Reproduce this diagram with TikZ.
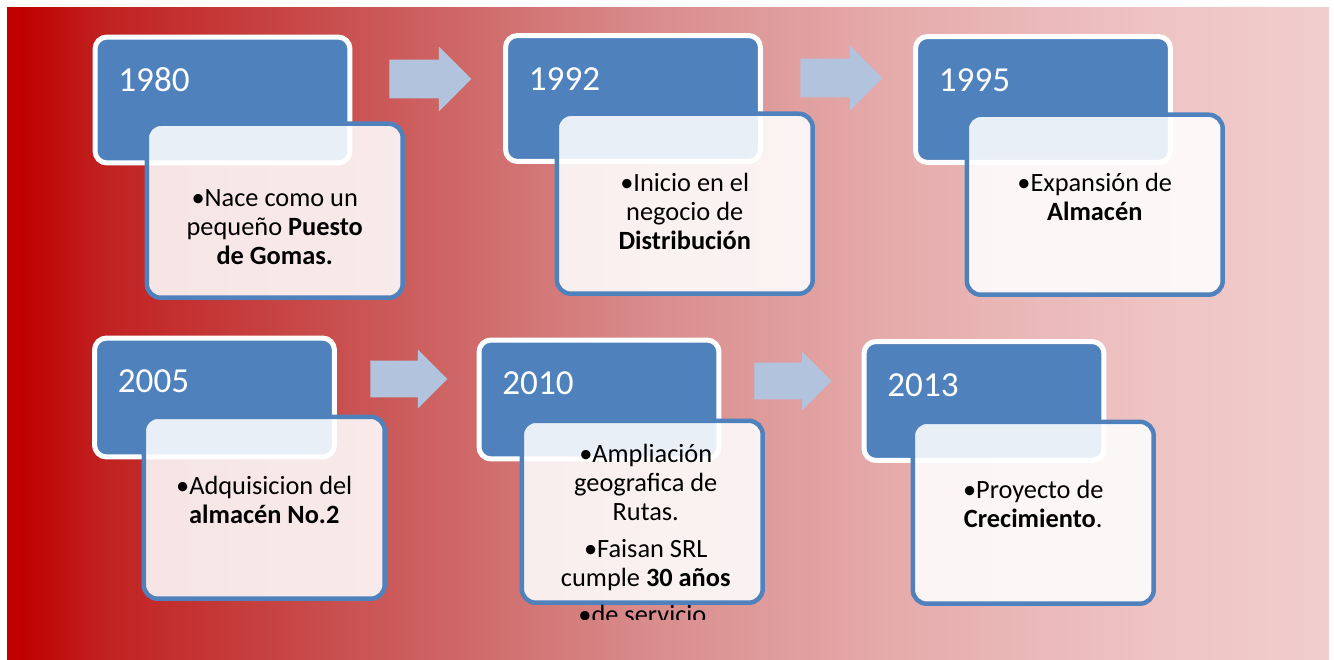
\documentclass[tikz,border=0pt]{standalone}
\usepackage{fontspec}
\setmainfont{Carlito}
\usetikzlibrary{positioning,shapes.arrows}
\definecolor{yearblue}{RGB}{79,129,189}
\definecolor{arrowblue}{RGB}{178,195,221}
\definecolor{fadeA}{RGB}{192,0,0}
\definecolor{fadeB}{RGB}{193,32,32}
\definecolor{fadeC}{RGB}{204,92,92}
\definecolor{fadeD}{RGB}{217,140,140}
\definecolor{fadeE}{RGB}{230,172,172}
\definecolor{fadeF}{RGB}{238,195,195}
\definecolor{fadeG}{RGB}{242,205,205}
\pgfdeclarehorizontalshading{timefade}{100bp}{color(0bp)=(fadeA); color(25.6bp)=(fadeA);
  color(28.5bp)=(fadeB); color(39.9bp)=(fadeC); color(49.3bp)=(fadeD);
  color(58.8bp)=(fadeE); color(68.2bp)=(fadeF); color(75bp)=(fadeG); color(100bp)=(fadeG)}

\begin{document}
\begin{tikzpicture}[
    x=0.02cm, y=-0.02cm,
    yearbox/.style={rectangle, rounded corners=0.24cm, draw=white, fill=yearblue,
                    line width=0.1cm, inner sep=0pt},
    notebox/.style={rectangle, rounded corners=0.28cm, draw=yearblue, fill=white,
                    fill opacity=0.88, line width=0.09cm, inner sep=0pt},
    toprow/.style={minimum width=5.1cm, minimum height=2.52cm},
    lowrow/.style={minimum width=4.8cm, minimum height=2.38cm},
    topnote/.style={minimum width=5.12cm, minimum height=3.6cm},
    lownote/.style={minimum width=4.82cm, minimum height=3.64cm},
    yeartext/.style={text=white, inner sep=0pt, font=\fontsize{20}{24}\selectfont},
    notetext/.style={text width=5cm, align=flush center, inner sep=0pt,
                     font=\fontsize{15}{16.5}\selectfont},
    steparrow/.style={single arrow, fill=arrowblue, single arrow tip angle=90,
                      inner xsep=0pt, anchor=tail},
    bigarrow/.style={minimum height=1.64cm, minimum width=1.28cm, inner ysep=0.38cm,
                     single arrow head extend=0.26cm},
    smallarrow/.style={minimum height=1.54cm, minimum width=1.16cm, inner ysep=0.36cm,
                       single arrow head extend=0.22cm}
]
\useasboundingbox (0,0) rectangle (1334,659);
\shade[shading=timefade] (7,7) rectangle (1329,659);

\node[steparrow, bigarrow] (a1) at (389,79) {};
\node[steparrow, bigarrow] (a2) at (800,78) {};
\node[steparrow, smallarrow] (a3) at (370,379) {};
\node[steparrow, smallarrow] (a4) at (754,381) {};

\node[yearbox, toprow] (y1980) at (222.5,100) {};
\node[yeartext, below right=1.14cm and 0.51cm of y1980.north west, anchor=base west] (l1980) {1980};
\node[notebox, topnote, minimum height=3.48cm, below right=1.74cm and 1.04cm of y1980.north west] (n1980) {};
\node[notetext, below=1.71cm of n1980.north, anchor=base] (t1980)
     {•Nace como un\\pequeño \textbf{Puesto}\\\textbf{de Gomas.}};

\node[yearbox, toprow] (y1992) at (633,98.5) {};
\node[yeartext, below right=1.14cm and 0.51cm of y1992.north west, anchor=base west] (l1992) {1992};
\node[notebox, topnote, below right=1.57cm and 1.03cm of y1992.north west] (n1992) {};
\node[notetext, below=1.61cm of n1992.north, anchor=base] (t1992)
     {•Inicio en el\\negocio de\\\textbf{Distribución}};

\node[yearbox, toprow] (y1995) at (1043,99.5) {};
\node[yeartext, below right=1.14cm and 0.51cm of y1995.north west, anchor=base west] (l1995) {1995};
\node[notebox, topnote, below right=1.57cm and 1.03cm of y1995.north west] (n1995) {};
\node[notetext, below=1.59cm of n1995.north, anchor=base] (t1995)
     {•Expansión de\\\textbf{Almacén}};

\node[yearbox, lowrow] (y2005) at (214.5,397.5) {};
\node[yeartext, below right=1.14cm and 0.51cm of y2005.north west, anchor=base west] (l2005) {2005};
\node[notebox, lownote, below right=1.58cm and 0.99cm of y2005.north west] (n2005) {};
\node[notetext, below=1.61cm of n2005.north, anchor=base] (t2005)
     {•Adquisicion del\\\textbf{almacén No.2}};

\node[yearbox, lowrow] (y2010) at (599,399.5) {};
\node[yeartext, below right=1.14cm and 0.51cm of y2010.north west, anchor=base west] (l2010) {2010};
\node[notebox, lownote, below right=1.62cm and 0.86cm of y2010.north west] (n2010) {};
\begin{scope}
\clip ([yshift=-0.29cm]n2010.south west) rectangle (n2010.north east);
\node[notetext, below=0.89cm of n2010.north, anchor=base, xshift=0.07cm] (t2010)
     {•Ampliación\\geografica de\\Rutas.\\[0.16cm]•Faisan SRL\\cumple \textbf{30 años}\\[0.16cm]•de servicio.};
\end{scope}

\node[yearbox, lowrow] (y2013) at (984,401) {};
\node[yeartext, below right=1.14cm and 0.51cm of y2013.north west, anchor=base west] (l2013) {2013};
\node[notebox, lownote, below right=1.61cm and 0.98cm of y2013.north west] (n2013) {};
\node[notetext, below=1.59cm of n2013.north, anchor=base] (t2013)
     {•Proyecto de\\\textbf{Crecimiento}.};

\end{tikzpicture}
\end{document}
